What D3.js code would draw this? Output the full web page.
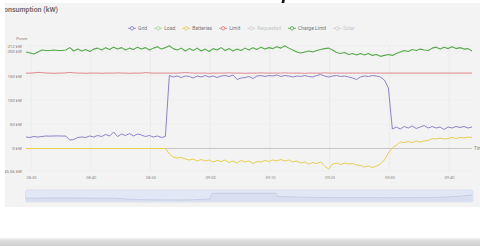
<!DOCTYPE html>
<html>
<head>
<meta charset="utf-8">
<script src="https://cdn.jsdelivr.net/npm/d3@7"></script>
<style>
  html, body { margin: 0; padding: 0; background: #fff; }
  svg { display: block; font-family: Roboto, "Open Sans", sans-serif; }
</style>
</head>
<body>
<svg id="chart" width="480" height="246"></svg>
<script>
// --- data ---
const startTime = '08:29:10';
const stepSeconds = 40;

const gridKw = [23.7, 22.7, 24.7, 23.7, 24.7, 25.8, 25.5, 25.8, 26, 25.8,
  25.5, 17.5, 18.6, 22.7, 23.7, 22.7, 25.8, 23.7, 26.8, 24.7,
  28.9, 25.8, 34, 24.7, 29.9, 26.8, 30.9, 25.8, 29.9, 27.8,
  24.7, 26.8, 23.7, 25.8, 22.7, 24.7, 150.5, 147.5, 149.5, 146.4,
  149.5, 148.5, 145.4, 149.5, 147.5, 150.5, 147.5, 149.5, 146.4, 149.5,
  150.5, 148.5, 151.6, 142.3, 145.4, 146.4, 148.5, 144.3, 149.5, 150.5,
  148.5, 150.5, 149.5, 151.6, 148.5, 150.5, 149.5, 147.5, 149.5, 148.5,
  150.5, 148.5, 147.5, 150.5, 152.6, 149.5, 147.5, 149.5, 150.5, 148.5,
  149.5, 147.5, 145.4, 142.3, 147.5, 149.5, 148.5, 150.5, 149.5, 147.5,
  141.2, 124.7, 40.2, 44.3, 40.2, 45.4, 42.3, 46.4, 41.2, 44.3,
  47.4, 42.3, 45.4, 42.3, 44.3, 39.2, 44.3, 42.3, 45.4, 43.3,
  45.4, 42.3, 44.3];

const batteriesKw = [0, 0, 0, 0, 0, 0, 0, 0, 0, 0,
  0, 0, 0, 0, 0, 0, 0, 0, 0, 0,
  0, 0, 0, 0, 0, 0, 0, 0, 0, 0,
  0, 0, 0, 0, 0, 0, -11.3, -17.5, -19.6, -18.6,
  -21.7, -23.7, -21.7, -25.8, -22.7, -25.8, -23.7, -27.8, -24.7, -26.8,
  -23.7, -28.9, -25.8, -29.9, -24.7, -27.8, -25.8, -30.9, -26.8, -27.8,
  -24.7, -26.8, -23.7, -25.8, -22.7, -25.8, -23.7, -27.8, -25.8, -29.9,
  -27.8, -32, -28.9, -30.9, -27.8, -36.1, -42.3, -32, -29.9, -33,
  -29.9, -32, -30.9, -34, -35, -38.2, -36.1, -39.2, -36.1, -32,
  -23.7, -9.3, 1, 7.2, 13.4, 12.4, 14.4, 12.4, 15.5, 13.4,
  15.5, 16.5, 20.6, 19.6, 21.6, 19.6, 20.6, 22.7, 20.6, 22.7,
  21.6, 23.7, 22.7];

const limitKw = [155.5, 155.5, 156, 157, 156.5, 155.5, 155.5, 155, 155.5, 155.5,
  156, 157, 156, 155.5, 155.5, 155, 155.5, 155.5, 155.5, 155,
  155.5, 155.5, 155.5, 156, 155.5, 155.5, 155, 155.5, 155.5, 155.5,
  156.5, 156, 155.5, 155.5, 155.5, 155.5, 155.5, 155.5, 155.5, 156,
  156.5, 156, 155.5, 155.5, 155.5, 155.5, 155, 155.5, 155.5, 155.5,
  155.5, 156, 155.5, 155.5, 155.5, 155, 155.5, 155.5, 155.5, 156,
  155.5, 155.5, 155.5, 155.5, 155.5, 156, 155.5, 155.5, 155.5, 155.5,
  155, 155.5, 155.5, 155.5, 155.5, 156, 155.5, 155.5, 155.5, 155.5,
  155.5, 155.5, 155.5, 155.5, 155.5, 155.5, 155.5, 155.5, 155.5, 155.5,
  155.5, 155.5, 155.5, 155.5, 155.5, 155.5, 155.5, 155.5, 155.5, 155.5,
  155.5, 155.5, 155.5, 155.5, 155.5, 155.5, 155.5, 155.5, 155.5, 155.5,
  155.5, 155.5, 155.5];

const chargeLimitKw = [199, 197, 195, 199, 203, 202, 202, 203, 202, 202,
  203, 208, 201, 205, 201, 204, 200, 205, 207, 203,
  208, 204, 209, 205, 208, 203, 207, 204, 209, 205,
  208, 203, 207, 210, 205, 208, 212, 206, 203, 207,
  201, 206, 202, 207, 201, 205, 200, 206, 203, 208,
  202, 206, 201, 205, 202, 207, 203, 208, 204, 209,
  205, 208, 206, 210, 207, 212, 207, 203, 199, 197,
  199, 201, 199, 202, 204, 206, 207, 203, 198, 196,
  198, 194, 196, 193, 196, 193, 196, 192, 194, 190,
  192, 194, 192, 196, 199, 202, 200, 204, 202, 205,
  203, 202, 207, 209, 205, 209, 206, 210, 206, 208,
  205, 206, 201];

// slider overview shape (time label, relative level)
const overviewTimes = ['08:29:10', '08:35:00', '08:44:00', '08:47:00', '08:55:00', '09:00:00',
  '09:00:20', '09:11:00', '09:11:20', '09:20:00', '09:30:00', '09:38:00', '09:43:50'];
const overviewLevel = [30, 32, 30, 18, 14, 24, 75, 75, 45, 36, 34, 38, 58];

const seriesNames = ['Grid', 'Load', 'Batteries', 'Limit', 'Requested', 'Charge Limit', 'Solar'];
const seriesColors = ['#8b84c8', '#a9d9a3', '#e9cf4e', '#e07a82', '#c9c9c9', '#56a94a', '#c4c4c4'];
const seriesShown = [true, true, true, true, false, true, false];

const yTicks = [-45.56, 0, 50, 100, 150, 200, 212];
const xTickLabels = ['08:30', '08:40', '08:50', '09:00', '09:10', '09:20', '09:30', '09:40'];

// --- setup ---
const svg = d3.select('#chart');
const parse = d3.timeParse('%H:%M:%S');
const parseHM = d3.timeParse('%H:%M');
const t0 = parse(startTime);
const times = gridKw.map((_, i) => new Date(t0.getTime() + i * stepSeconds * 1000));

const x = d3.scaleTime().domain([times[0], times[times.length - 1]]).range([26, 472]);
const y = d3.scaleLinear().domain([-45.56, 212]).range([170.6, 45.7]);

// gradient for the strip at the bottom
const defs = svg.append('defs');
const grad = defs.append('linearGradient').attr('id', 'bar').attr('x1', 0).attr('y1', 0).attr('x2', 0).attr('y2', 1);
grad.append('stop').attr('offset', '0%').attr('stop-color', '#f2f2f2');
grad.append('stop').attr('offset', '35%').attr('stop-color', '#dcdcdc');
grad.append('stop').attr('offset', '100%').attr('stop-color', '#cfcfcf');
defs.append('clipPath').attr('id', 'panel-clip')
  .append('rect').attr('x', 5).attr('y', 3).attr('width', 475).attr('height', 204);

svg.append('rect').attr('x', 0).attr('y', 238).attr('width', 480).attr('height', 8).attr('fill', 'url(#bar)');

// black stroke poking in from above
svg.append('path')
  .attr('d', 'M283.5,0 Q282.5,7 277.5,12')
  .attr('fill', 'none').attr('stroke', '#111').attr('stroke-width', 2.6).attr('stroke-linecap', 'round');

const panel = svg.append('g').attr('clip-path', 'url(#panel-clip)');
panel.append('rect').attr('x', 5).attr('y', 3).attr('width', 475).attr('height', 204).attr('fill', '#f3f3f3');

panel.append('text')
  .attr('x', -0.5).attr('y', 11.5)
  .attr('font-size', 7).attr('font-weight', 600).attr('fill', '#6a6a6a')
  .text('Consumption (kW)');

// legend
const legend = panel.append('g').attr('font-size', 5);
let lx = 128;
seriesNames.forEach((name, i) => {
  const col = seriesShown[i] ? seriesColors[i] : '#cfcfcf';
  const item = legend.append('g');
  item.append('line').attr('x1', lx).attr('x2', lx + 8).attr('y1', 28.3).attr('y2', 28.3)
    .attr('stroke', col).attr('stroke-width', 0.9);
  item.append('circle').attr('cx', lx + 4).attr('cy', 28.3).attr('r', 1.7)
    .attr('fill', '#f3f3f3').attr('stroke', col).attr('stroke-width', 0.9);
  const t = item.append('text').attr('x', lx + 10).attr('y', 30)
    .attr('fill', seriesShown[i] ? '#777' : '#c6c6c6').text(name);
  lx += 10 + t.node().getComputedTextLength() + 7;
});

// gridlines
panel.append('g').selectAll('line').data(xTickLabels.map(parseHM)).join('line')
  .attr('x1', d => x(d)).attr('x2', d => x(d)).attr('y1', 45).attr('y2', 171)
  .attr('stroke', '#e6e6e6').attr('stroke-width', 0.6);
panel.append('g').selectAll('line').data(yTicks.filter(d => d !== 0)).join('line')
  .attr('x1', 26).attr('x2', 472).attr('y1', d => y(d)).attr('y2', d => y(d))
  .attr('stroke', '#ebebeb').attr('stroke-width', 0.5);

// y axis labels
const yAxis = panel.append('g').attr('transform', 'translate(23,0)')
  .call(d3.axisLeft(y).tickValues(yTicks).tickSize(0).tickPadding(1)
    .tickFormat(d => d3.format('.2~f')(d) + ' kW'));
yAxis.select('.domain').remove();
yAxis.selectAll('text').attr('font-size', 4.4).attr('fill', '#7a7a7a').attr('font-family', 'Roboto, sans-serif');

panel.append('text').attr('x', 22).attr('y', 39.5).attr('text-anchor', 'middle')
  .attr('font-size', 4).attr('fill', '#8a8a8a').text('Power');

// x axis labels at the bottom
const xAxis = panel.append('g').attr('transform', 'translate(0,175.5)')
  .call(d3.axisBottom(x).tickValues(xTickLabels.map(parseHM)).tickSize(0).tickPadding(1)
    .tickFormat(d3.timeFormat('%H:%M')));
xAxis.select('.domain').remove();
xAxis.selectAll('text').attr('font-size', 4).attr('fill', '#8a8a8a').attr('font-family', 'Roboto, sans-serif');

// zero axis line with name
panel.append('line').attr('x1', 26).attr('x2', 472).attr('y1', y(0)).attr('y2', y(0))
  .attr('stroke', '#a8a8a8').attr('stroke-width', 0.6);
panel.append('text').attr('x', 474).attr('y', y(0) + 1.6).attr('font-size', 4.6).attr('fill', '#888').text('Time');

// series lines
const line = d3.line().x((d, i) => x(times[i])).y(d => y(d));
const drawOrder = [
  { values: limitKw, color: seriesColors[3], w: 0.9 },
  { values: chargeLimitKw, color: seriesColors[5], w: 1.1 },
  { values: batteriesKw, color: seriesColors[2], w: 1 },
  { values: gridKw, color: seriesColors[0], w: 1 }
];
drawOrder.forEach(s => {
  panel.append('path').datum(s.values)
    .attr('d', line).attr('fill', 'none')
    .attr('stroke', s.color).attr('stroke-width', s.w).attr('stroke-linejoin', 'round');
});

// data zoom slider
const slider = panel.append('g');
slider.append('rect').attr('x', 25.5).attr('y', 190).attr('width', 447.5).attr('height', 12).attr('rx', 2)
  .attr('fill', '#e2e7f5').attr('stroke', '#d3d9eb').attr('stroke-width', 0.6);
const ov = d3.scaleLinear().domain([0, 100]).range([201.5, 190.5]);
const ovTimes = overviewTimes.map(parse);
slider.append('path').datum(overviewLevel)
  .attr('d', d3.area().x((d, i) => x(ovTimes[i])).y0(201.5).y1(d => ov(d)).curve(d3.curveMonotoneX))
  .attr('fill', '#d9dff0');
slider.append('path').datum(overviewLevel)
  .attr('d', d3.line().x((d, i) => x(ovTimes[i])).y(d => ov(d)).curve(d3.curveMonotoneX))
  .attr('fill', 'none').attr('stroke', '#bcc5de').attr('stroke-width', 0.7);
</script>
</body>
</html>
